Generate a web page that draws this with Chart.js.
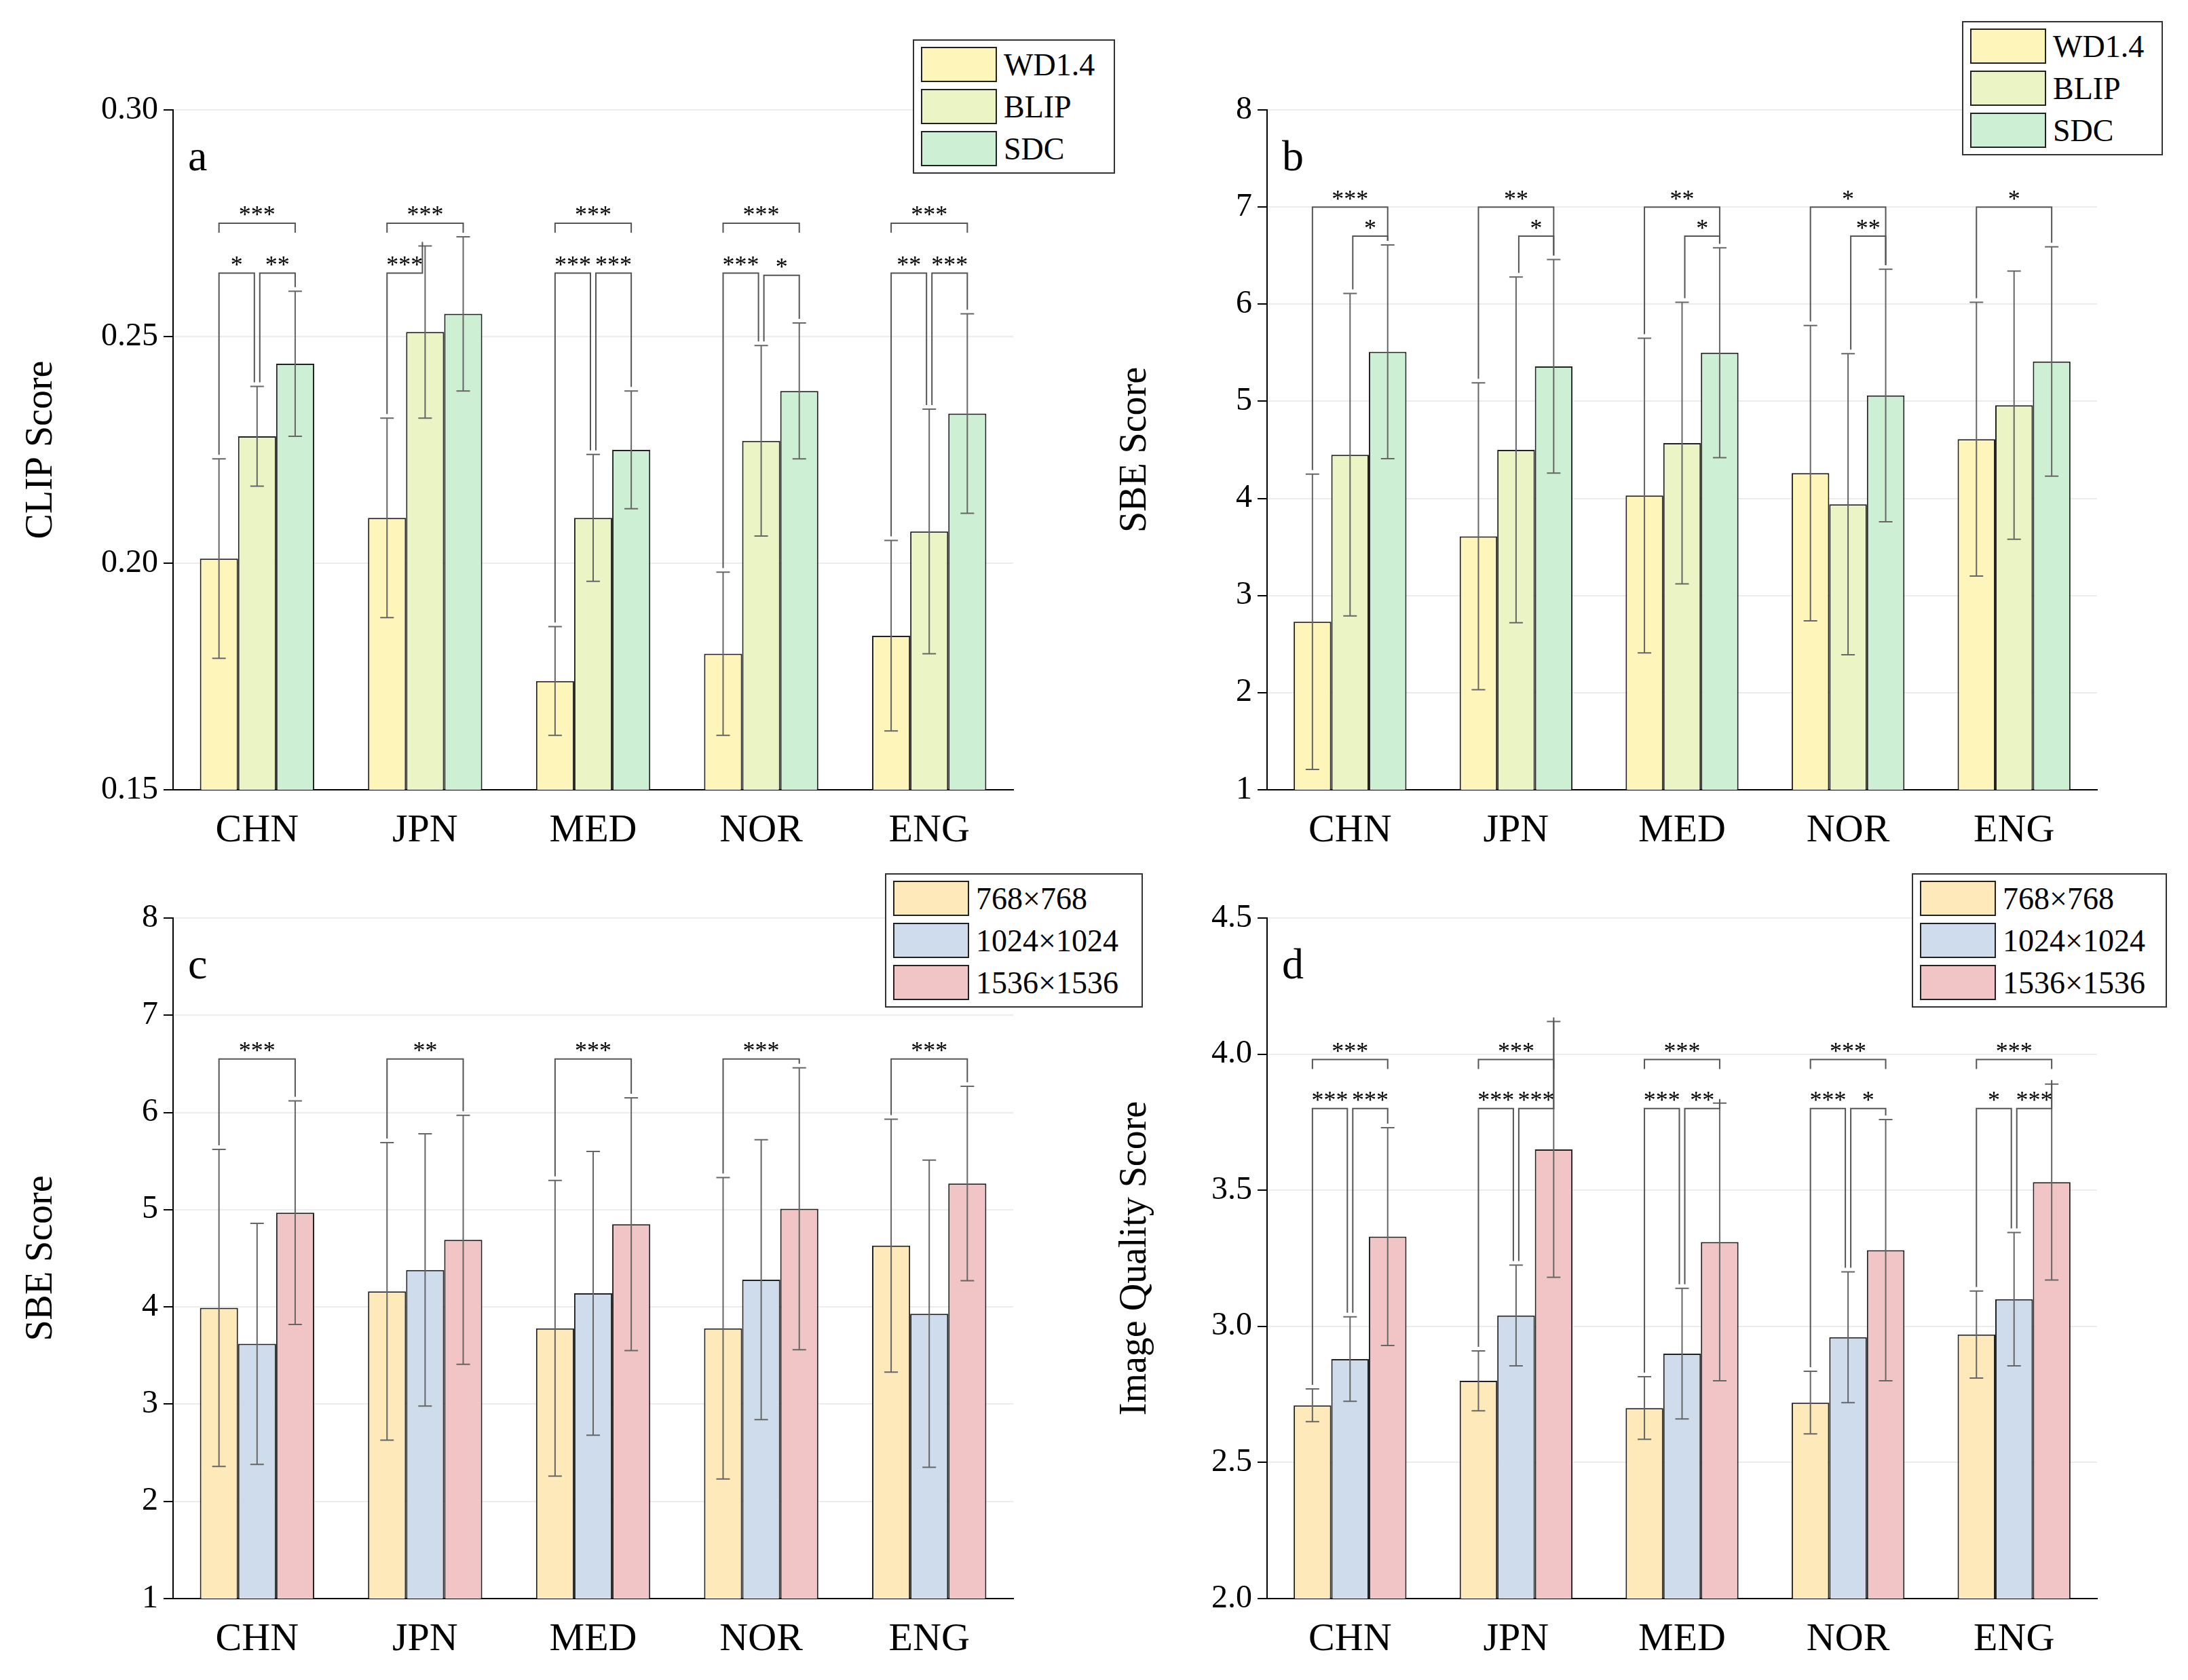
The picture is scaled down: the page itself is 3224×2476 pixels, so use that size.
<!DOCTYPE html>
<html><head><meta charset="utf-8">
<script src="https://cdn.jsdelivr.net/npm/chart.js@4.4.0/dist/chart.umd.min.js"></script>
<style>
body{margin:0;width:3224px;height:2476px;background:#fff;position:relative;overflow:hidden;font-family:"Liberation Serif",serif}
canvas{position:absolute}
.leg{position:absolute;border:2px solid #333;background:#fff;padding:4px 10px 4px 10px;box-sizing:border-box}
.row{display:flex;align-items:center;height:62px;font-size:46px}
.sw{width:112px;height:52px;border:2px solid #222;margin-right:10px;box-sizing:border-box}
</style></head><body>
<script>
const categories=["CHN","JPN","MED","NOR","ENG"];
// Panel a: CLIP score
const aNames=["WD1.4","BLIP","SDC"];
const aWD=[0.201,0.210,0.174,0.180,0.184], aWDe=[0.022,0.022,0.012,0.018,0.021];
const aBLIP=[0.228,0.251,0.210,0.227,0.207], aBLIPe=[0.011,0.019,0.014,0.021,0.027];
const aSDC=[0.244,0.255,0.225,0.238,0.233], aSDCe=[0.016,0.017,0.013,0.015,0.022];
// Panel b: SBE score
const bWD=[2.73,3.61,4.03,4.26,4.61], bWDe=[1.52,1.58,1.62,1.52,1.41];
const bBLIP=[4.45,4.50,4.57,3.94,4.96], bBLIPe=[1.66,1.78,1.45,1.55,1.38];
const bSDC=[5.51,5.36,5.50,5.06,5.41], bSDCe=[1.10,1.10,1.08,1.30,1.18];
// Panel c: SBE by resolution
const resNames=["768×768","1024×1024","1536×1536"];
const c768=[3.99,4.16,3.78,3.78,4.63], c768e=[1.63,1.53,1.52,1.55,1.30];
const c1024=[3.62,4.38,4.14,4.28,3.93], c1024e=[1.24,1.40,1.46,1.44,1.58];
const c1536=[4.97,4.69,4.85,5.01,5.27], c1536e=[1.15,1.28,1.30,1.45,1.00];
// Panel d: image quality
const d768=[2.71,2.80,2.70,2.72,2.97], d768e=[0.06,0.11,0.115,0.115,0.16];
const d1024=[2.88,3.04,2.90,2.96,3.10], d1024e=[0.155,0.185,0.24,0.24,0.245];
const d1536=[3.33,3.65,3.31,3.28,3.53], d1536e=[0.40,0.47,0.51,0.48,0.36];
// significance brackets: [group, from, to, y, label, longLegs]
const aSig=[[0,0,2,0.275,"***",0],[0,0,1,0.264,"*",1],[0,1,2,0.264,"**",1],
 [1,0,2,0.275,"***",0],[1,0,1,0.264,"***",1],
 [2,0,2,0.275,"***",0],[2,0,1,0.264,"***",1],[2,1,2,0.264,"***",1],
 [3,0,2,0.275,"***",0],[3,0,1,0.264,"***",1],[3,1,2,0.2635,"*",1],
 [4,0,2,0.275,"***",0],[4,0,1,0.264,"**",1],[4,1,2,0.264,"***",1]];
const bSig=[[0,0,2,7.0,"***",1],[0,1,2,6.7,"*",1],[1,0,2,7.0,"**",1],[1,1,2,6.7,"*",1],
 [2,0,2,7.0,"**",1],[2,1,2,6.7,"*",1],[3,0,2,7.0,"*",1],[3,1,2,6.7,"**",1],[4,0,2,7.0,"*",1]];
const cSig=[[0,0,2,6.55,"***",1],[1,0,2,6.55,"**",1],[2,0,2,6.55,"***",1],[3,0,2,6.55,"***",1],[4,0,2,6.55,"***",1]];
const dSig=[[0,0,2,3.98,"***",0],[0,0,1,3.80,"***",1],[0,1,2,3.80,"***",1],
 [1,0,2,3.98,"***",0],[1,0,1,3.80,"***",1],[1,1,2,3.80,"***",1],
 [2,0,2,3.98,"***",0],[2,0,1,3.80,"***",1],[2,1,2,3.80,"**",1],
 [3,0,2,3.98,"***",0],[3,0,1,3.80,"***",1],[3,1,2,3.80,"*",1],
 [4,0,2,3.98,"***",0],[4,0,1,3.80,"*",1],[4,1,2,3.80,"***",1]];
const colA=["#fdf5b9","#ebf4c4","#cdefd3"], colR=["#fde9b9","#cfdcec","#f1c4c6"];

const FONT="'Liberation Serif', serif";
const errPlugin={id:'err',afterDatasetsDraw(ch){
  const ctx=ch.ctx,ys=ch.scales.y,o=ch.options.plugins.err;
  ctx.save();ctx.strokeStyle="#666";ctx.lineWidth=2;
  ch.data.datasets.forEach((ds,di)=>{ch.getDatasetMeta(di).data.forEach((b,i)=>{
    const v=ds.data[i],e=ds.err[i],t=ys.getPixelForValue(v+e),bt=ys.getPixelForValue(v-e);
    ctx.beginPath();ctx.moveTo(b.x,t);ctx.lineTo(b.x,bt);ctx.moveTo(b.x-10,t);ctx.lineTo(b.x+10,t);ctx.moveTo(b.x-10,bt);ctx.lineTo(b.x+10,bt);ctx.stroke();});});
  ctx.strokeStyle="#555";ctx.fillStyle="#000";ctx.font="36px "+FONT;ctx.textAlign="center";ctx.textBaseline="bottom";
  o.sig.forEach(([g,f,t,y,lab,lg])=>{
    const x1=ch.getDatasetMeta(f).data[g].x+(f===1&&t===2?4:0),x2=ch.getDatasetMeta(t).data[g].x-(f===0&&t===1?4:0);
    const py=ys.getPixelForValue(y);
    const top=(d)=>ys.getPixelForValue(ch.data.datasets[d].data[g]+ch.data.datasets[d].err[g])-6;
    const l1=lg?top(f):py+14,l2=lg?top(t):py+14;
    ctx.beginPath();ctx.moveTo(x1,l1);ctx.lineTo(x1,py);ctx.lineTo(x2,py);ctx.lineTo(x2,l2);ctx.stroke();
    ctx.fillText(lab,(x1+x2)/2,py+8);});
  ctx.font="64px "+FONT;ctx.textAlign="left";ctx.textBaseline="middle";
  ctx.fillText(o.letter,ch.chartArea.left+22,ch.chartArea.top+(o.letterDy||72));
  ctx.restore();}};

function make(o){
  const c=document.createElement('canvas');c.style.left=o.left+'px';c.style.top=o.top+'px';
  c.width=o.w;c.height=o.h;c.style.width=o.w+'px';c.style.height=o.h+'px';document.body.appendChild(c);
  new Chart(c,{type:'bar',plugins:[errPlugin],
    data:{labels:categories,datasets:o.sets.map((s,i)=>({label:o.names[i],data:s[0],err:s[1],backgroundColor:o.cols[i],borderColor:"#222",borderWidth:2,barPercentage:1,categoryPercentage:0.68}))},
    options:{responsive:false,animation:false,devicePixelRatio:1,
      layout:{padding:{top:o.padTop,right:o.padRight,left:0,bottom:0}},
      plugins:{legend:{display:false},tooltip:{enabled:false},err:{sig:o.sig,letter:o.letter,letterDy:o.letterDy}},
      scales:{
        x:{grid:{display:false},border:{color:"#000",width:2},ticks:{color:"#000",font:{family:FONT,size:58},padding:18},afterFit:s=>{s.height=o.xh;}},
        y:{min:o.min,max:o.max,afterBuildTicks:s=>{s.ticks=o.ticks.map(v=>({value:v}));},
          grid:{color:"#ececec",tickColor:"#000",tickLength:14,lineWidth:2},border:{color:"#000",width:2},
          ticks:{color:"#000",font:{family:FONT,size:48},padding:8,callback:v=>v.toFixed(o.dec)},
          title:{display:true,text:o.title,color:"#000",font:{family:FONT,size:56},padding:{top:28,bottom:0}},
          afterFit:s=>{s.width=255;}}}}});
}
function legend(left,top,w,names,cols){
  const d=document.createElement('div');d.className='leg';d.style.left=left+'px';d.style.top=top+'px';d.style.width=w+'px';
  d.innerHTML=names.map((n,i)=>`<div class="row"><div class="sw" style="background:${cols[i]}"></div>${n}</div>`).join('');
  document.body.appendChild(d);
}
const ticksA=[0.15,0.20,0.25,0.30],ticks18=[1,2,3,4,5,6,7,8],ticksD=[2.0,2.5,3.0,3.5,4.0,4.5];
make({left:0,top:0,w:1612,h:1250,padTop:162,padRight:119,xh:86,min:0.15,max:0.30,ticks:ticksA,dec:2,title:"CLIP Score",letter:"a",
  names:aNames,cols:colA,sets:[[aWD,aWDe],[aBLIP,aBLIPe],[aSDC,aSDCe]],sig:aSig});
make({left:1612,top:0,w:1612,h:1250,padTop:162,padRight:134,xh:86,min:1,max:8,ticks:ticks18,dec:0,title:"SBE Score",letter:"b",
  names:aNames,cols:colA,sets:[[bWD,bWDe],[bBLIP,bBLIPe],[bSDC,bSDCe]],sig:bSig});
make({left:0,top:1240,w:1612,h:1236,padTop:113,padRight:119,xh:120,min:1,max:8,ticks:ticks18,dec:0,title:"SBE Score",letter:"c",
  names:resNames,cols:colR,sets:[[c768,c768e],[c1024,c1024e],[c1536,c1536e]],sig:cSig});
make({left:1612,top:1240,w:1612,h:1236,padTop:113,padRight:134,xh:120,min:2.0,max:4.5,ticks:ticksD,dec:1,title:"Image Quality Score",letter:"d",
  names:resNames,cols:colR,sets:[[d768,d768e],[d1024,d1024e],[d1536,d1536e]],sig:dSig});
legend(1345,58,298,aNames,colA);
legend(2891,31,296,aNames,colA);
legend(1304,1287,380,resNames,colR);
legend(2817,1287,376,resNames,colR);
</script></body></html>
